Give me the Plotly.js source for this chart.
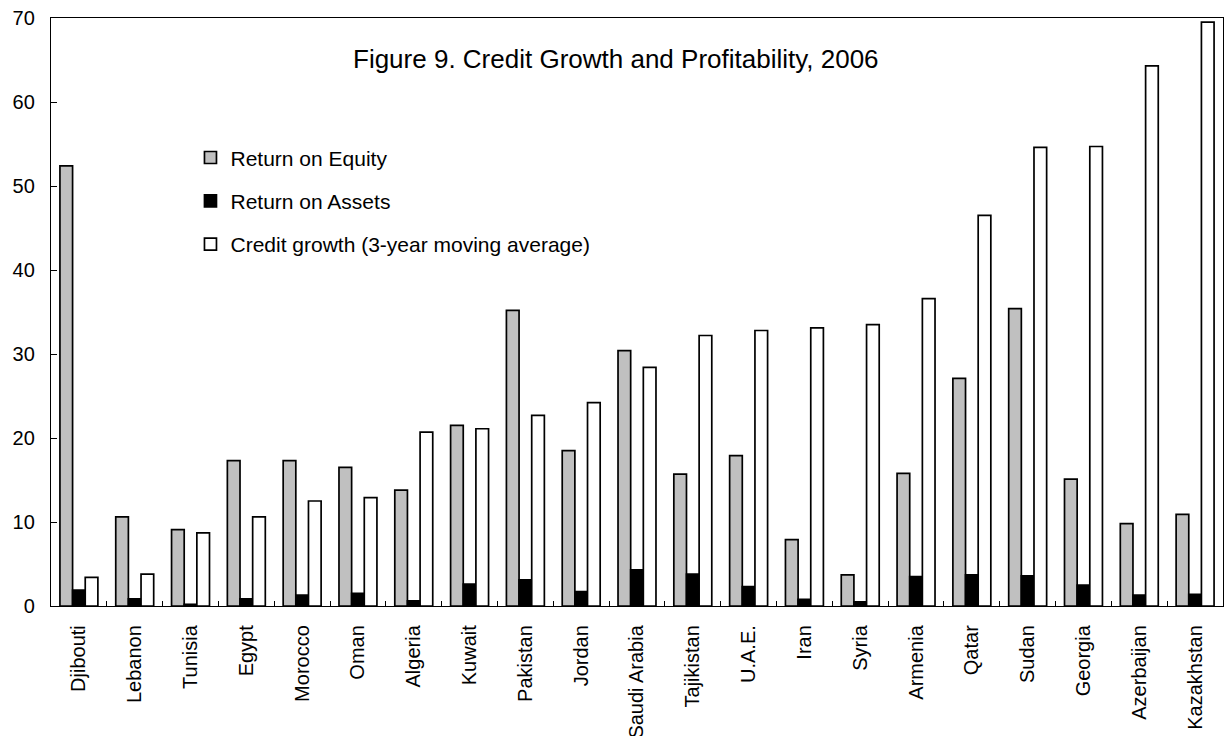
<!DOCTYPE html>
<html>
<head>
<meta charset="utf-8">
<script src="https://cdn.plot.ly/plotly-3.0.1.min.js"></script>
<style>html,body{margin:0;padding:0;background:#fff;}#chart{width:1225px;height:736px;}</style>
</head>
<body>
<div id="chart"></div>
<script>
const countries = ["Djibouti","Lebanon","Tunisia","Egypt","Morocco","Oman","Algeria","Kuwait","Pakistan","Jordan","Saudi Arabia","Tajikistan","U.A.E.","Iran","Syria","Armenia","Qatar","Sudan","Georgia","Azerbaijan","Kazakhstan"];
const returnOnEquity = [52.4,10.6,9.1,17.3,17.3,16.5,13.8,21.5,35.2,18.5,30.4,15.7,17.9,7.9,3.7,15.8,27.1,35.4,15.1,9.8,10.9];
const returnOnAssets = [1.9,0.85,0.2,0.85,1.3,1.5,0.6,2.6,3.1,1.7,4.3,3.8,2.3,0.8,0.5,3.5,3.7,3.6,2.5,1.3,1.4];
const creditGrowth = [3.4,3.8,8.7,10.6,12.5,12.9,20.7,21.1,22.7,24.2,28.4,32.2,32.8,33.1,33.5,36.6,46.5,54.6,54.7,64.3,69.5];
const seriesNames = ["Return on Equity","Return on Assets","Credit growth (3-year moving average)"];
const fillColors = ["#c0c0c0","#000000","#ffffff"];

const font = "Liberation Sans, Arial, sans-serif";
const values = [returnOnEquity, returnOnAssets, creditGrowth];
const traces = values.map((v,i)=>({
  type:"bar", x:countries, y:v, name:seriesNames[i], legendgroup:"g"+i,
  marker:{color:fillColors[i], line:{color:"#000", width:1.7}}
}));

const layout = {
  width:1225, height:736,
  margin:{l:51, r:2, t:18, b:130},
  paper_bgcolor:"#fff", plot_bgcolor:"#fff",
  barmode:"group", bargap:0.32, bargroupgap:0,
  font:{family:font, color:"#000", size:20},
  showlegend:true,
  legend:{x:0.119, y:0.797, xanchor:"left", yanchor:"top", bgcolor:"rgba(0,0,0,0)",
          font:{family:font, size:21, color:"#000"}, traceorder:"grouped", tracegroupgap:13, itemwidth:30},
  xaxis:{type:"category", showline:true, linecolor:"#000", linewidth:1.2, mirror:true,
         ticks:"inside", ticklen:5, tickcolor:"#000", tickson:"boundaries", ticklabelstandoff:10,
         tickangle:-90, tickfont:{family:font, size:20}, automargin:false, showgrid:false, zeroline:false},
  yaxis:{range:[0,70], dtick:10, showline:true, linecolor:"#000", linewidth:1.2, mirror:true,
         ticks:"inside", ticklen:6, tickcolor:"#000", showgrid:false, zeroline:false, ticklabelstandoff:11,
         tickfont:{family:font, size:20}, automargin:false},
  annotations:[{text:"Figure 9. Credit Growth and Profitability, 2006", xref:"paper", yref:"paper",
    x:0.4825, y:0.931, xanchor:"center", yanchor:"middle", showarrow:false,
    font:{family:font, size:26, color:"#000"}}]
};
Plotly.newPlot("chart", traces, layout, {staticPlot:true});
</script>
</body>
</html>
